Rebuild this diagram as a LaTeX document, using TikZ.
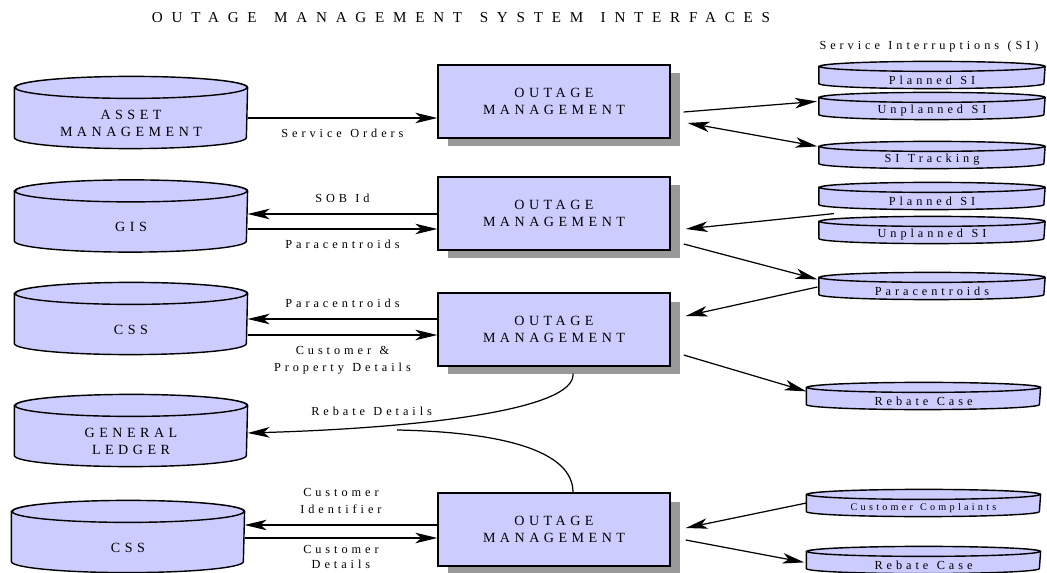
\documentclass[tikz,border=0pt]{standalone}
\usepackage{fontspec}
\setmainfont{Liberation Serif}
\newfontfamily\spacedfont[LetterSpace=32,WordSpace=1.2]{Liberation Serif}
\newfontfamily\headfont[LetterSpace=58,WordSpace=1.4]{Liberation Serif}
\usetikzlibrary{arrows.meta,shadows,calc,backgrounds}
\definecolor{storefill}{HTML}{CCCCFF}

\tikzset{
  omsbox/.style={rectangle, draw, line width=0.8pt, fill=storefill,
    minimum width=4.64cm, minimum height=1.46cm, align=center,
    font=\spacedfont\fontsize{8}{10}\selectfont,
    drop shadow={shadow xshift=2mm, shadow yshift=-1.7mm, fill=black!40, opacity=1}},
  store/.style={rectangle, inner sep=0pt, minimum width=4.64cm, minimum height=0.98cm,
    align=center, font=\spacedfont\fontsize{8}{9.5}\selectfont},
  disk/.style={rectangle, inner sep=0pt, minimum width=4.5cm, minimum height=0.32cm,
    font=\spacedfont\fontsize{7}{8}\selectfont},
  lbl/.style={inner sep=1pt, align=center, font=\spacedfont\fontsize{7}{10}\selectfont},
  drumline/.style={draw, fill=storefill, line width=0.8pt},
}

\begin{document}
\begin{tikzpicture}[x=0.02cm, y=-0.02cm, line width=0.7pt,
  >={Stealth[length=4.4mm, width=2.1mm, inset=1.2mm]}]
\useasboundingbox (0,0) rectangle (1047,573);

\node[font=\headfont\fontsize{8.6}{10}\selectfont] (title) at (461,18) {OUTAGE MANAGEMENT SYSTEM INTERFACES};

% stores on the left
\node[store] (asset) at (131,123.5) {ASSET\\MANAGEMENT};
\node[store] (gis) at (131,227) {GIS};
\node[store] (css) at (131,329.5) {CSS};
\node[store] (ledger) at (131,441.5) {GENERAL\\LEDGER};
\node[store] (cssb) at (128,547.5) {CSS};

% outage management
\node[omsbox] (om1) at (554,101.5) {OUTAGE\\MANAGEMENT};
\node[omsbox] (om2) at (554,213.5) {OUTAGE\\MANAGEMENT};
\node[omsbox] (om3) at (554,329.5) {OUTAGE\\MANAGEMENT};
\node[omsbox] (om4) at (554,529.5) {OUTAGE\\MANAGEMENT};

% files on the right
\node[font=\spacedfont\fontsize{7}{8}\selectfont] (sihead) at (929,47) {Service Interruptions (SI)};
\node[disk] (pl1) at (932,80) {Planned SI};
\node[disk] (un1) at (932,111) {Unplanned SI};
\node[disk] (trk) at (932,160) {SI Tracking};
\node[disk] (pl2) at (932,201) {Planned SI};
\node[disk] (un2) at (932,235) {Unplanned SI};
\node[disk] (para) at (932,291) {Paracentroids};
\node[disk, minimum width=4.66cm] (reb1) at (923.5,401) {Rebate Case};
\node[disk, minimum width=4.66cm, font=\spacedfont\fontsize{5.8}{7}\selectfont] (cc) at (923.5,508) {Customer Complaints};
\node[disk, minimum width=4.66cm] (reb2) at (923.5,565) {Rebate Case};

% drums behind the store texts
\begin{scope}[on background layer]
\foreach \n/\hw/\ry in {asset/2.32/.22, gis/2.32/.22, css/2.32/.22, ledger/2.32/.22, cssb/2.32/.22,
    pl1/2.25/.1, un1/2.25/.1, trk/2.25/.1, pl2/2.25/.1, un2/2.25/.1, para/2.25/.1,
    reb1/2.33/.1, cc/2.33/.1, reb2/2.33/.1}
  \path[drumline] ([yshift=\ry cm]\n.north west) -- ([yshift=\ry cm]\n.south west)
    arc[start angle=180, end angle=360, x radius=\hw cm, y radius=\ry cm]
    -- ([yshift=\ry cm]\n.north east)
    arc[start angle=0, end angle=180, x radius=\hw cm, y radius=\ry cm] -- cycle
    ([yshift=\ry cm]\n.north) ellipse[x radius=\hw cm, y radius=\ry cm];
\end{scope}

\draw[->] (asset.east |- 0,118) -- (om1.west |- 0,118) node[lbl, midway, below=5pt] {Service Orders};
\draw[->] ($(om1.east)+(13,10.5)$) -- ($(un1.north west)+(-2,-1)$);
\draw[<->] ($(om1.east)+(17,21.5)$) -- ($(trk.north west)+(-1.5,-5)$);

\draw[->] (om2.west |- 0,214) -- (gis.east |- 0,214) node[lbl, midway, above=5pt] {SOB Id};
\draw[->] (gis.east |- 0,229) -- (om2.west |- 0,229) node[lbl, midway, below=5pt] {Paracentroids};
\draw[->] ($(pl2.south west)+(15,4)$) -- ($(om2.east)+(15,15.5)$);
\draw[->] ($(om2.east)+(13,30.5)$) -- ($(para.north west)+(-1.5,-3)$);

\draw[->] (om3.west |- 0,319) -- (css.east |- 0,319) node[lbl, midway, above=5pt] {Paracentroids};
\draw[->] (css.east |- 0,335) -- (om3.west |- 0,335) node[lbl, midway, below=5pt] {Customer \&\\Property Details};
\draw[->] ($(para.west)+(-1.5,-4)$) -- ($(om3.east)+(15,-13.5)$);
\draw[->] ($(om3.east)+(13,25.5)$) -- ($(reb1.north west)+(0,-1)$);

\draw[->] ($(om3.south)+(19,7)$) .. controls (576,410) and (420,428) .. (ledger.east |- 0,433)
  node[lbl, pos=.75, above=5pt] {Rebate Details};
\coordinate (join) at (397,430);
\draw ($(om4.north)+(19,0)$) .. controls (573,450) and (500,432) .. (join);

\draw[->] (om4.west |- 0,525) -- (cssb.east |- 0,525) node[lbl, midway, above=5pt] {Customer\\Identifier};
\draw[->] (cssb.east |- 0,538) -- (om4.west |- 0,538) node[lbl, midway, below=3pt, font=\spacedfont\fontsize{7}{8.6}\selectfont] {Customer\\Details};
\draw[->] ($(cc.west)+(0,-5)$) -- ($(om4.east)+(15,-1.5)$);
\draw[->] ($(om4.east)+(15,10.5)$) -- ($(reb2.north west)+(-2,6)$);
\end{tikzpicture}
\end{document}
